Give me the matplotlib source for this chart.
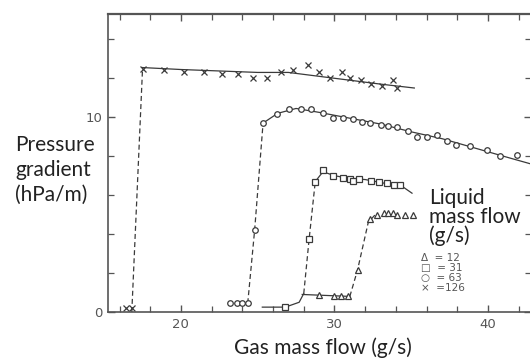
import matplotlib
matplotlib.use("Agg")
import matplotlib.pyplot as plt

# gas mass flow (g/s) vs pressure gradient (hPa/m)
# liquid flow 126 g/s (x)
x126_pts = [16.4, 16.8, 17.5, 18.9, 20.2, 21.5, 22.7, 23.7, 24.7, 25.6, 26.5, 27.3,
            28.3, 29.0, 29.7, 30.5, 31.0, 31.7, 32.4, 33.1, 33.8, 34.1]
y126_pts = [0.2, 0.2, 12.5, 12.4, 12.3, 12.3, 12.2, 12.2, 12.0, 12.0, 12.3, 12.4,
            12.7, 12.3, 12.0, 12.3, 12.0, 11.9, 11.7, 11.6, 11.9, 11.5]
x126_rise = [16.8, 17.5]
y126_rise = [0.0, 12.5]
x126_fit = [17.5, 20.0, 25.0, 27.0, 29.0, 31.0, 33.0, 35.2]
y126_fit = [12.55, 12.45, 12.3, 12.3, 12.1, 11.9, 11.7, 11.5]

# liquid flow 63 g/s (o)
x63_pts = [23.2, 23.65, 23.95, 24.35, 24.8, 25.35, 26.25, 27.05, 27.8, 28.5, 29.25,
           29.9, 30.55, 31.2, 31.8, 32.3, 33.0, 33.5, 34.1, 34.8, 35.4, 36.0, 36.7,
           37.35, 37.9, 38.85, 39.95, 40.8, 41.9]
y63_pts = [0.45, 0.45, 0.45, 0.45, 4.2, 9.7, 10.15, 10.4, 10.4, 10.4, 10.2,
           9.95, 9.95, 9.9, 9.75, 9.7, 9.6, 9.55, 9.5, 9.3, 9.0, 9.0, 9.1,
           8.8, 8.55, 8.5, 8.3, 8.0, 8.05]
x63_rise = [24.35, 24.8, 25.35]
y63_rise = [0.45, 4.2, 9.7]
x63_fit = [25.35, 26.3, 27.5, 29.0, 31.0, 33.0, 35.0, 37.0, 39.0, 41.0, 42.8]
y63_fit = [9.7, 10.2, 10.45, 10.25, 9.95, 9.65, 9.25, 8.9, 8.45, 8.0, 7.6]

# liquid flow 31 g/s (square)
x31_pts = [26.8, 28.35, 28.75, 29.25, 29.9, 30.55, 31.0, 31.2, 31.6, 32.4, 32.9,
           33.45, 33.9, 34.25]
y31_pts = [0.25, 3.75, 6.7, 7.3, 7.0, 6.9, 6.85, 6.75, 6.85, 6.75, 6.65,
           6.6, 6.5, 6.5]
x31_low = [25.3, 26.8, 27.7, 28.0]
y31_low = [0.25, 0.25, 0.5, 0.95]
x31_rise = [28.0, 28.35, 28.75]
y31_rise = [0.95, 3.75, 6.7]
x31_fit = [28.75, 29.25, 30.0, 31.0, 32.0, 33.0, 34.0, 34.5, 35.05]
y31_fit = [6.7, 7.2, 7.0, 6.85, 6.8, 6.65, 6.5, 6.4, 6.1]

# liquid flow 12 g/s (triangle)
x12_pts = [29.0, 30.0, 30.4, 30.9, 31.5, 32.3, 32.8, 33.2, 33.5, 33.8, 34.1, 34.6, 35.1]
y12_pts = [0.85, 0.8, 0.8, 0.8, 2.15, 4.8, 5.0, 5.1, 5.1, 5.1, 5.0, 5.0, 5.0]
x12_low = [27.9, 31.0]
y12_low = [0.9, 0.8]
x12_rise = [31.0, 31.5, 32.2]
y12_rise = [0.8, 2.15, 4.6]
x12_fit = [32.2, 32.6]
y12_fit = [4.6, 4.95]

legend_rows = ["\u0394  = 12", "\u25a1  = 31", "\u25cb  = 63", "\u00d7  =126"]

ink = "#3a3a3a"
fig = plt.figure(figsize=(5.3, 3.6), dpi=100)
ax = fig.add_axes([108 / 530, 1 - 312 / 360, 423 / 530, 298 / 360])

dash = dict(color=ink, lw=0.9, ls=(0, (4, 2.5)))
solid = dict(color=ink, lw=0.9)
mk = dict(ls="none", color=ink, mfc="white", ms=4, mew=0.9)

ax.plot(x126_rise, y126_rise, **dash)
ax.plot(x126_fit, y126_fit, **solid)
ax.plot(x126_pts, y126_pts, marker="x", **mk)

ax.plot(x63_rise, y63_rise, **dash)
ax.plot(x63_fit, y63_fit, **solid)
ax.plot(x63_pts, y63_pts, marker="o", **mk)

ax.plot(x31_low, y31_low, **solid)
ax.plot(x31_rise, y31_rise, **dash)
ax.plot(x31_fit, y31_fit, **solid)
ax.plot(x31_pts, y31_pts, marker="s", **mk)

ax.plot(x12_low, y12_low, **solid)
ax.plot(x12_rise, y12_rise, **dash)
ax.plot(x12_fit, y12_fit, **solid)
ax.plot(x12_pts, y12_pts, marker="^", **mk)

ax.set_xlim(15.25, 42.8)
ax.set_ylim(0, 15.3)
ax.set_xticks(range(16, 43, 2), minor=True)
ax.set_xticks([20, 30, 40])
ax.set_yticks(range(2, 15, 2), minor=True)
ax.set_yticks([0, 10])
ax.tick_params(which="both", direction="in", top=True, right=True, color="#555",
               labelsize=9.5, labelcolor="#555", pad=4)
ax.tick_params(which="major", length=5, width=1)
ax.tick_params(which="minor", length=4, width=0.9)
for s in ax.spines.values():
    s.set_color("#555")
    s.set_linewidth(1.2)
ax.spines["top"].set_linewidth(1.6)

lab = dict(family="Lato", fontsize=15, color="#222")
fig.text(15 / 530, 1 - 170 / 360, "Pressure\ngradient\n(hPa/m)", ha="left",
         va="center", linespacing=1.3, **lab)
fig.text(323 / 530, 1 - 348 / 360, "Gas mass flow (g/s)", ha="center", va="center", **lab)
fig.text(429 / 530, 1 - 217 / 360, "Liquid\nmass flow\n(g/s)", ha="left",
         va="center", linespacing=0.95, **lab)
for i, row in enumerate(legend_rows):
    fig.text(421 / 530, 1 - (258 + 10 * i) / 360, row, ha="left", va="center",
             fontsize=7.5, color="#555")

fig.savefig("out.png", dpi=100)
